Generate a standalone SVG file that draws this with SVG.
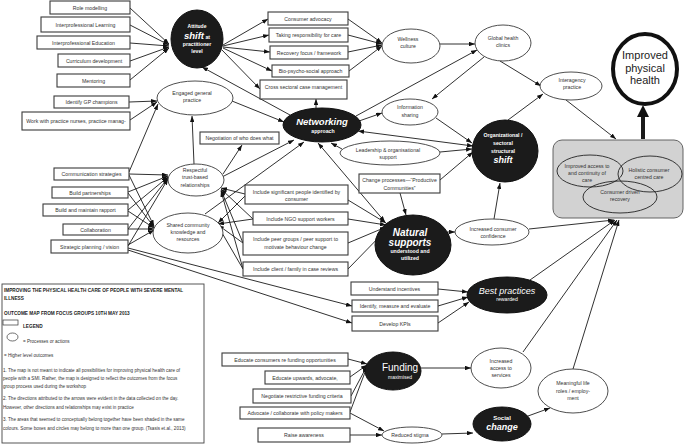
<svg xmlns="http://www.w3.org/2000/svg" width="685" height="447" viewBox="0 0 685 447">
<defs>
<marker id="ah" viewBox="0 0 8 6" refX="8" refY="3" markerWidth="6" markerHeight="4.5" orient="auto-start-reverse" markerUnits="userSpaceOnUse"><path d="M0,0L8,3L0,6z" fill="#111"/></marker>
<style>
.box{fill:#fff;stroke:#3a3a3a;stroke-width:1.1}
.ell{fill:#fff;stroke:#3a3a3a;stroke-width:0.9}
.dark{fill:#1b1b1b;stroke:#111;stroke-width:1}
.t{font-family:"Liberation Sans",Arial,sans-serif;font-size:5.2px;fill:#333;text-anchor:middle}
.w{fill:#fff;font-weight:bold}
.bi{font-weight:bold;font-style:italic}
.lg{font-family:"Liberation Sans",Arial,sans-serif;font-size:4.6px;fill:#333}
.lgb{font-family:"Liberation Sans",Arial,sans-serif;font-size:4.7px;fill:#222;font-weight:bold}
.c line{stroke:#1a1a1a;stroke-width:0.9;marker-end:url(#ah)}
.c line.bd{marker-start:url(#ah)}
</style>
</defs>
<rect width="685" height="447" fill="#fff"/>

<g id="connectors" class="c">
<line x1="130" y1="8" x2="169" y2="44"/>
<line x1="130" y1="25" x2="169" y2="45"/>
<line x1="130" y1="43" x2="169" y2="46"/>
<line x1="130" y1="61" x2="169" y2="47"/>
<line x1="130" y1="80" x2="169" y2="48"/>
<line x1="129" y1="102" x2="157" y2="101"/>
<line x1="130" y1="120" x2="157" y2="102"/>
<line x1="129" y1="172" x2="158" y2="104"/>
<line x1="194" y1="164" x2="192" y2="116"/>
<line x1="223" y1="45" x2="268" y2="19"/>
<line x1="223" y1="46" x2="269" y2="35"/>
<line x1="223" y1="47" x2="270" y2="52"/>
<line x1="223" y1="48" x2="272" y2="71"/>
<line x1="222" y1="50" x2="260" y2="89"/>
<line x1="348" y1="19" x2="382" y2="43"/>
<line x1="348" y1="35" x2="382" y2="44"/>
<line x1="348" y1="52" x2="382" y2="45"/>
<line x1="349" y1="71" x2="382" y2="46"/>
<line x1="440" y1="44" x2="475" y2="44"/>
<line x1="356" y1="116" x2="477" y2="50"/>
<line x1="484" y1="57" x2="432" y2="99"/>
<line x1="500" y1="61" x2="541" y2="86"/>
<line x1="508" y1="120" x2="543" y2="94"/>
<line x1="566" y1="100" x2="616" y2="139"/>
<line x1="316" y1="108" x2="316" y2="99"/>
<line x1="359" y1="121" x2="382" y2="113"/>
<line x1="436" y1="118" x2="472" y2="143"/>
<line class="bd" x1="358" y1="131" x2="473" y2="146"/>
<line x1="440" y1="152" x2="472" y2="149"/>
<line x1="342" y1="149" x2="331" y2="143"/>
<line x1="440" y1="180" x2="473" y2="152"/>
<line x1="400" y1="193" x2="406" y2="215"/>
<line class="bd" x1="318" y1="143" x2="385" y2="222"/>
<line x1="447" y1="232" x2="455" y2="232"/>
<line x1="494" y1="219" x2="500" y2="183"/>
<line x1="529" y1="229" x2="614" y2="220"/>
<line x1="530" y1="280" x2="615" y2="220"/>
<line x1="523" y1="352" x2="617" y2="220"/>
<line x1="573" y1="369" x2="619" y2="220"/>
<line x1="348" y1="200" x2="386" y2="223"/>
<line x1="348" y1="219" x2="386" y2="225"/>
<line x1="348" y1="243" x2="386" y2="227"/>
<line x1="348" y1="269" x2="387" y2="229"/>
<line x1="245" y1="194" x2="221" y2="188"/>
<line x1="253" y1="219" x2="221" y2="189"/>
<line x1="243" y1="243" x2="221" y2="190"/>
<line x1="243" y1="269" x2="221" y2="191"/>
<line x1="245" y1="196" x2="218" y2="223"/>
<line x1="253" y1="219" x2="218" y2="224"/>
<line x1="243" y1="243" x2="218" y2="225"/>
<line x1="243" y1="269" x2="218" y2="226"/>
<line x1="129" y1="174" x2="168" y2="175"/>
<line x1="128" y1="192" x2="168" y2="176"/>
<line x1="128" y1="210" x2="168" y2="177"/>
<line x1="128" y1="229" x2="168" y2="178"/>
<line x1="128" y1="246" x2="168" y2="179"/>
<line x1="129" y1="175" x2="154" y2="226"/>
<line x1="128" y1="193" x2="154" y2="227"/>
<line x1="128" y1="211" x2="154" y2="228"/>
<line x1="128" y1="229" x2="154" y2="229"/>
<line x1="128" y1="245" x2="154" y2="230"/>
<line x1="128" y1="248" x2="352" y2="306"/>
<line x1="128" y1="250" x2="352" y2="323"/>
<line x1="438" y1="289" x2="468" y2="292"/>
<line x1="438" y1="306" x2="468" y2="297"/>
<line x1="438" y1="323" x2="469" y2="302"/>
<line x1="348" y1="359" x2="367" y2="364"/>
<line x1="350" y1="377" x2="367" y2="365"/>
<line x1="351" y1="396" x2="367" y2="366"/>
<line x1="350" y1="412" x2="367" y2="367"/>
<line x1="350" y1="413" x2="384" y2="431"/>
<line x1="350" y1="435" x2="382" y2="435"/>
<line x1="421" y1="368" x2="471" y2="368"/>
<line x1="442" y1="434" x2="473" y2="433"/>
<line x1="528" y1="416" x2="550" y2="408"/>
<line x1="290" y1="115" x2="202" y2="67"/>
<line x1="232" y1="101" x2="284" y2="122"/>
<line x1="223" y1="174" x2="242" y2="145"/>
<line x1="222" y1="177" x2="294" y2="140"/>
<line x1="205" y1="214" x2="304" y2="142"/>
<line x1="643" y1="139" x2="643" y2="116" style="stroke-width:4;marker-end:none"/>
<polygon points="637,117 649,117 643,105" fill="#111"/>
</g>

<g id="n_role"><rect class="box" x="50" y="1" width="80" height="13"/><text class="t" x="90" y="9.8">Role modelling</text></g>
<g id="n_ilearn"><rect class="box" x="41" y="17" width="89" height="15"/><text class="t" x="85.5" y="26.5">Interprofessional Learning</text></g>
<g id="n_iedu"><rect class="box" x="37" y="36" width="93" height="13"/><text class="t" x="83.5" y="44.5">Interprofessional Education</text></g>
<g id="n_curr"><rect class="box" x="58" y="54" width="72" height="13"/><text class="t" x="94" y="62.5">Curriculum development</text></g>
<g id="n_ment"><rect class="box" x="57" y="74" width="73" height="13"/><text class="t" x="93.5" y="82.5">Mentoring</text></g>
<g id="n_gp"><rect class="box" x="54" y="96" width="75" height="12"/><text class="t" x="91.5" y="104">Identify GP champions</text></g>
<g id="n_nurse"><rect class="box" x="22" y="112" width="108" height="18"/><text class="t" x="76" y="122.8">Work with practice nurses, practice manag-</text></g>
<g id="n_comm"><rect class="box" x="54" y="168" width="75" height="12"/><text class="t" x="91.5" y="176">Communication strategies</text></g>
<g id="n_bpart"><rect class="box" x="52" y="187" width="76" height="11"/><text class="t" x="90" y="194.5">Build partnerships</text></g>
<g id="n_rapport"><rect class="box" x="43" y="204" width="85" height="12"/><text class="t" x="85.5" y="212">Build and maintain rapport</text></g>
<g id="n_collab"><rect class="box" x="63" y="224" width="65" height="11"/><text class="t" x="95.5" y="231.5">Collaboration</text></g>
<g id="n_strat"><rect class="box" x="51" y="240" width="77" height="13"/><text class="t" x="89.5" y="248.5">Strategic planning / vision</text></g>
<g id="n_neg"><rect class="box" x="200" y="132" width="79" height="12"/><text class="t" x="239.5" y="140">Negotiation of who does what</text></g>
<g id="n_cadv"><rect class="box" x="268" y="12" width="80" height="13"/><text class="t" x="308" y="20.5">Consumer advocacy</text></g>
<g id="n_take"><rect class="box" x="269" y="28" width="79" height="14"/><text class="t" x="308.5" y="37">Taking responsibility for care</text></g>
<g id="n_rec"><rect class="box" x="270" y="46" width="78" height="13"/><text class="t" x="309" y="54.5">Recovery focus / framework</text></g>
<g id="n_bio"><rect class="box" x="272" y="65" width="77" height="12"/><text class="t" x="310.5" y="73">Bio-psycho-social approach</text></g>
<g id="n_cross"><rect class="box" x="260" y="80" width="87" height="19"/><text class="t" x="303.5" y="89">Cross sectoral case management</text></g>
<g id="n_change"><rect class="box" x="359" y="174" width="81" height="19"/><text class="t" x="399.5" y="182">Change processes—“Productive</text><text class="t" x="399.5" y="189.5">Communities”</text></g>
<g id="n_sig"><rect class="box" x="245" y="185" width="103" height="19"/><text class="t" x="296.5" y="193.5">Include significant people identified by</text><text class="t" x="296.5" y="200.5">consumer</text></g>
<g id="n_ngo"><rect class="box" x="253" y="212" width="95" height="13"/><text class="t" x="300.5" y="220.5">Include NGO support workers</text></g>
<g id="n_peer"><rect class="box" x="243" y="232" width="105" height="23"/><text class="t" x="295.5" y="241">Include peer groups / peer support to</text><text class="t" x="295.5" y="248.5">motivate behaviour change</text></g>
<g id="n_client"><rect class="box" x="243" y="262" width="105" height="14"/><text class="t" x="295.5" y="271">Include client / family in case reviews</text></g>
<g id="n_under"><rect class="box" x="351" y="282" width="87" height="13"/><text class="t" x="394.5" y="290.5">Understand incentives</text></g>
<g id="n_ident"><rect class="box" x="352" y="300" width="86" height="12"/><text class="t" x="395" y="308">Identify, measure and evaluate</text></g>
<g id="n_kpi"><rect class="box" x="352" y="316" width="86" height="15"/><text class="t" x="395" y="325.5">Develop KPIs</text></g>
<g id="n_educ"><rect class="box" x="222" y="353" width="126" height="13"/><text class="t" x="285" y="361.5">Educate consumers re funding opportunities</text></g>
<g id="n_eup"><rect class="box" x="265" y="371" width="85" height="13"/><text class="t" x="305" y="379.5">Educate upwards, advocate,</text></g>
<g id="n_negfund"><rect class="box" x="253" y="389" width="98" height="14"/><text class="t" x="302" y="398">Negotiate restrictive funding criteria</text></g>
<g id="n_adv"><rect class="box" x="240" y="407" width="110" height="12"/><text class="t" x="295" y="415">Advocate / collaborate with policy makers</text></g>
<g id="n_raise"><rect class="box" x="258" y="428" width="92" height="14"/><text class="t" x="304" y="437">Raise awareness</text></g>

<g id="n_attitude"><ellipse class="dark" cx="197" cy="39" rx="26" ry="29"/><text class="t w" x="197" y="28" style="font-size:5px">Attitude</text><text class="t w" x="197" y="38.5"><tspan class="bi" style="font-size:9.5px">shift</tspan> at</text><text class="t w" x="197" y="46">practitioner</text><text class="t w" x="197" y="53">level</text></g>
<g id="n_engaged"><ellipse class="ell" cx="195" cy="98" rx="38" ry="17"/><text class="t" x="192" y="95">Engaged general</text><text class="t" x="192" y="102">practice</text></g>
<g id="n_respect"><ellipse class="ell" cx="196" cy="180" rx="28" ry="16"/><text class="t" x="195" y="171.5">Respectful</text><text class="t" x="195" y="179">trust-based</text><text class="t" x="195" y="186.5">relationships</text></g>
<g id="n_shared"><ellipse class="ell" cx="188" cy="233" rx="35" ry="20"/><text class="t" x="188" y="227">Shared community</text><text class="t" x="188" y="234">knowledge and</text><text class="t" x="188" y="241">resources</text></g>
<g id="n_wellness"><ellipse class="ell" cx="411" cy="46" rx="29" ry="17"/><text class="t" x="408" y="40.5">Wellness</text><text class="t" x="408" y="48">culture</text></g>
<g id="n_global"><ellipse class="ell" cx="503" cy="43" rx="28" ry="18"/><text class="t" x="503" y="40">Global health</text><text class="t" x="503" y="47">clinics</text></g>
<g id="n_inter"><ellipse class="ell" cx="571" cy="86" rx="31" ry="14"/><text class="t" x="572" y="82">Interagency</text><text class="t" x="572" y="89">practice</text></g>
<g id="n_improved"><ellipse cx="645" cy="69" rx="32" ry="35" fill="#fff" stroke="#111" stroke-width="4"/><text class="t" x="645" y="59" style="font-size:11px;fill:#222">Improved</text><text class="t" x="645" y="71.5" style="font-size:11px;fill:#222">physical</text><text class="t" x="645" y="84" style="font-size:11px;fill:#222">health</text></g>
<g id="n_network"><ellipse class="dark" cx="322" cy="125" rx="39" ry="17"/><text class="t w bi" x="322" y="125" style="font-size:9.5px">Networking</text><text class="t w" x="323" y="132.5">approach</text></g>
<g id="n_info"><ellipse class="ell" cx="410" cy="112" rx="28" ry="13"/><text class="t" x="410" y="109">Information</text><text class="t" x="410" y="116.5">sharing</text></g>
<g id="n_lead"><ellipse class="ell" cx="390" cy="153" rx="50" ry="12"/><text class="t" x="388" y="152">Leadership &amp; organisational</text><text class="t" x="388" y="159">support</text></g>
<g id="n_org"><ellipse class="dark" cx="505" cy="151" rx="33" ry="31"/><text class="t w" x="503" y="137">Organizational /</text><text class="t w" x="503" y="145">sectoral</text><text class="t w" x="503" y="152.5">structural</text><text class="t w bi" x="503" y="162.5" style="font-size:9px">shift</text></g>
<g id="n_natural"><ellipse class="dark" cx="413" cy="245" rx="38" ry="30"/><text class="t w bi" x="410" y="235.5" style="font-size:10px">Natural</text><text class="t w bi" x="410" y="245.5" style="font-size:10px">supports</text><text class="t w" x="410" y="253">understood and</text><text class="t w" x="410" y="259.5">utilized</text></g>
<g id="n_confid"><ellipse class="ell" cx="492" cy="232" rx="37" ry="13"/><text class="t" x="493" y="231">Increased consumer</text><text class="t" x="493" y="238">confidence</text></g>
<g id="n_group"><rect x="553" y="140" width="130" height="78" rx="9" fill="#d2d2d2" stroke="#555" stroke-width="0.9"/>
<ellipse cx="590" cy="171" rx="33" ry="16" fill="none" stroke="#222" stroke-width="0.9"/>
<ellipse cx="650" cy="174" rx="32" ry="18" fill="none" stroke="#222" stroke-width="0.9"/>
<ellipse cx="620" cy="197" rx="37" ry="16" fill="none" stroke="#222" stroke-width="0.9"/>
<text class="t" x="587" y="167.5">Improved access to</text><text class="t" x="587" y="174.5">and continuity of</text><text class="t" x="587" y="181.5">care</text>
<text class="t" x="649" y="171.5">Holistic consumer</text><text class="t" x="649" y="178.5">centred care</text>
<text class="t" x="620" y="193.5">Consumer driven</text><text class="t" x="620" y="200.5">recovery</text></g>
<g id="n_best"><ellipse class="dark" cx="507" cy="295" rx="40" ry="18"/><text class="t w" x="507" y="294" style="font-size:9px;font-weight:normal;font-style:italic">Best practices</text><text class="t w" x="507" y="301" style="font-weight:normal">rewarded</text></g>
<g id="n_access"><ellipse class="ell" cx="501" cy="368" rx="30" ry="20"/><text class="t" x="501" y="363">Increased</text><text class="t" x="501" y="370">access to</text><text class="t" x="501" y="377">services</text></g>
<g id="n_mean"><ellipse class="ell" cx="573" cy="391" rx="35" ry="22"/><text class="t" x="573" y="385">Meaningful life</text><text class="t" x="573" y="392.5">roles / employ-</text><text class="t" x="573" y="400">ment</text></g>
<g id="n_social"><ellipse class="dark" cx="502" cy="424" rx="29" ry="17"/><text class="t w" x="502" y="419.5" style="font-size:6px">Social</text><text class="t w bi" x="502" y="430" style="font-size:9px">change</text></g>
<g id="n_funding"><ellipse class="dark" cx="393" cy="371" rx="28" ry="19"/><text class="t w" x="400" y="371" style="font-size:10px;font-weight:normal">Funding</text><text class="t w" x="400" y="379" style="font-size:5px;font-weight:normal">maximised</text></g>
<g id="n_stigma"><ellipse class="ell" cx="412" cy="435" rx="30" ry="8"/><text class="t" x="410" y="437">Reduced stigma</text></g>

<g id="legend">
<rect x="2" y="284" width="202" height="159" fill="#fff" stroke="#444" stroke-width="0.9"/>
<text class="lgb" x="4" y="292">IMPROVING THE PHYSICAL HEALTH CARE OF PEOPLE WITH SEVERE MENTAL</text>
<text class="lgb" x="4" y="300">ILLNESS</text>
<text class="lgb" x="4" y="315">OUTCOME MAP FROM FOCUS GROUPS 10TH MAY 2013</text>
<rect x="3" y="320" width="15" height="5" fill="#fff" stroke="#333" stroke-width="0.7"/>
<text class="lgb" x="23" y="328">LEGEND</text>
<ellipse cx="12.5" cy="337" rx="5.5" ry="4" fill="#fff" stroke="#333" stroke-width="0.7"/>
<text class="lg" x="23" y="343">= Processes or actions</text>
<text class="lg" x="4" y="357">= Higher level outcomes</text>
<text class="lg" x="3" y="372">1. The map is not meant to indicate all possibilities for improving physical health care of</text>
<text class="lg" x="3" y="380">people with a  SMI. Rather, the map is designed to reflect the outcomes from the focus</text>
<text class="lg" x="3" y="388">group process used during the workshop</text>
<text class="lg" x="3" y="400">2. The  directions attributed to the arrows were evident in the data collected on the day.</text>
<text class="lg" x="3" y="408.5">However, other directions and relationships may exist in practice</text>
<text class="lg" x="3" y="421">3. The areas that seemed to conceptually belong together have been shaded in the same</text>
<text class="lg" x="3" y="430">colours.  Some boxes and circles may belong to more than one group.  (Tsasis et.al., 2013)</text>
</g>
</svg>
